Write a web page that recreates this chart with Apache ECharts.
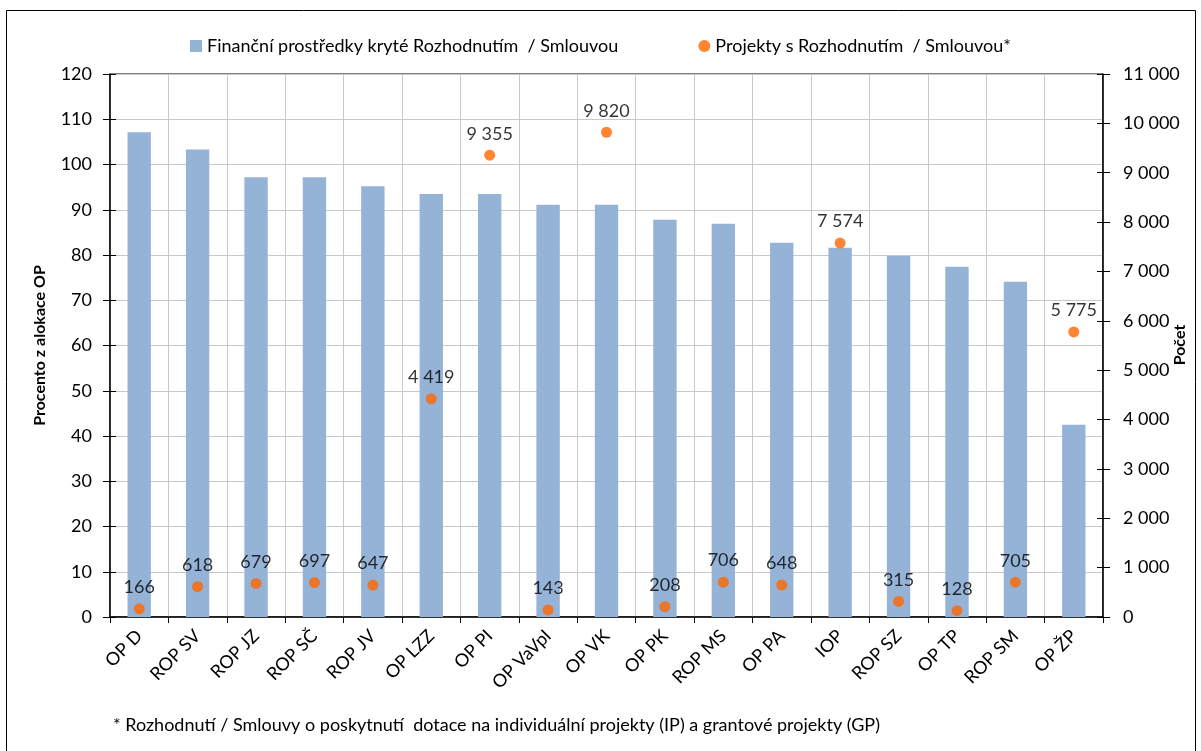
<!DOCTYPE html>
<html><head><meta charset="utf-8">
<script src="https://cdn.jsdelivr.net/npm/echarts@6/dist/echarts.min.js"></script>
<style>html,body{margin:0;padding:0;background:#fff}#c{width:1201px;height:751px}</style>
</head><body><div id="c"></div>
<script>
const categories = ['OP D','ROP SV','ROP JZ','ROP SČ','ROP JV','OP LZZ','OP PI','OP VaVpI','OP VK','OP PK','ROP MS','OP PA','IOP','ROP SZ','OP TP','ROP SM','OP ŽP'];
const financePct = [107.1,103.3,97.2,97.2,95.2,93.5,93.5,91.1,91.1,87.8,86.9,82.7,81.6,79.8,77.4,74.1,42.5];
const projectCounts = [166,618,679,697,647,4419,9355,143,9820,208,706,648,7574,315,128,705,5775];
const seriesNames = ['Finanční prostředky kryté Rozhodnutím  / Smlouvou','Projekty s Rozhodnutím  / Smlouvou*'];
const leftAxisTitle = 'Procento z alokace OP';
const rightAxisTitle = 'Počet';
const footnote = '* Rozhodnutí / Smlouvy o poskytnutí  dotace na individuální projekty (IP) a grantové projekty (GP)';

const FONT = 'Lato';
const fmt = v => String(v).replace(/\B(?=(\d{3})+(?!\d))/g, ' ');
const tickOverlay = (pos, max, interval) => ({
  type: 'value', min: 0, max: max, interval: interval, position: pos,
  axisLine: {show: false}, axisLabel: {show: false}, splitLine: {show: false},
  axisTick: {show: true, inside: true, length: 6, lineStyle: {color: '#000'}}
});
const chart = echarts.init(document.getElementById('c'));
chart.setOption({
  animation: false,
  textStyle: {fontFamily: FONT, color: '#000'},
  legend: {
    top: 32, left: 'center', itemGap: 80, itemWidth: 12, itemHeight: 12,
    textStyle: {fontFamily: FONT, fontSize: 18, color: '#000'},
    data: [{name: seriesNames[0], icon: 'rect'}, {name: seriesNames[1], icon: 'circle'}]
  },
  grid: {left: 110, right: 98, top: 74, bottom: 134, show: true, borderColor: '#000', borderWidth: 1,
    containLabel: false, outerBoundsMode: 'none'},
  xAxis: {
    type: 'category', data: categories,
    axisLine: {lineStyle: {color: '#000', width: 1.5}},
    axisTick: {show: true, length: 6, lineStyle: {color: '#000'}},
    splitLine: {show: true, lineStyle: {color: '#c8c8c8'}},
    axisLabel: {rotate: 45, fontSize: 18, color: '#000', fontFamily: FONT, margin: 16, interval: 0}
  },
  yAxis: [{
    type: 'value', min: 0, max: 120, interval: 10,
    name: leftAxisTitle, nameLocation: 'middle', nameGap: 62,
    nameTextStyle: {fontWeight: 'bold', fontSize: 16, fontFamily: FONT, color: '#000'},
    axisLine: {show: true, lineStyle: {color: '#000', width: 1.5}},
    axisTick: {show: true, length: 7, lineStyle: {color: '#000'}},
    splitLine: {show: true, lineStyle: {color: '#c8c8c8'}},
    axisLabel: {fontSize: 18, color: '#000', fontFamily: FONT, margin: 18}
  }, {
    type: 'value', min: 0, max: 11000, interval: 1000, position: 'right',
    axisLine: {show: true, lineStyle: {color: '#000', width: 1.5}},
    axisTick: {show: true, length: 7, lineStyle: {color: '#000'}},
    splitLine: {show: false},
    axisLabel: {fontSize: 18, color: '#000', fontFamily: FONT, margin: 20, formatter: fmt}
  },
  tickOverlay('left', 120, 10),
  tickOverlay('right', 11000, 1000)],
  series: [{
    name: seriesNames[0], type: 'bar', data: financePct, yAxisIndex: 0,
    barWidth: '40%', itemStyle: {color: '#95b3d7'}
  }, {
    name: seriesNames[1], type: 'scatter', data: projectCounts, yAxisIndex: 1,
    symbol: 'circle', symbolSize: 11, itemStyle: {color: '#ff6600'},
    label: {show: true, position: 'top', distance: 7, fontSize: 18, color: '#000', fontFamily: FONT,
      formatter: p => fmt(p.value)}
  }],
  graphic: [{
    type: 'rect', shape: {x: 6.5, y: 10.5, width: 1189, height: 760},
    style: {fill: 'none', stroke: '#000', lineWidth: 1}, silent: true
  }, {
    type: 'text', x: 1180, y: 345, rotation: Math.PI / 2,
    style: {text: rightAxisTitle, fontSize: 16, fontWeight: 'bold', fontFamily: FONT, fill: '#000',
      align: 'center', verticalAlign: 'middle'}
  }, {
    type: 'text', left: 113, top: 716,
    style: {text: footnote, fontSize: 18, fontFamily: FONT, fill: '#000'}
  }]
});
</script></body></html>
